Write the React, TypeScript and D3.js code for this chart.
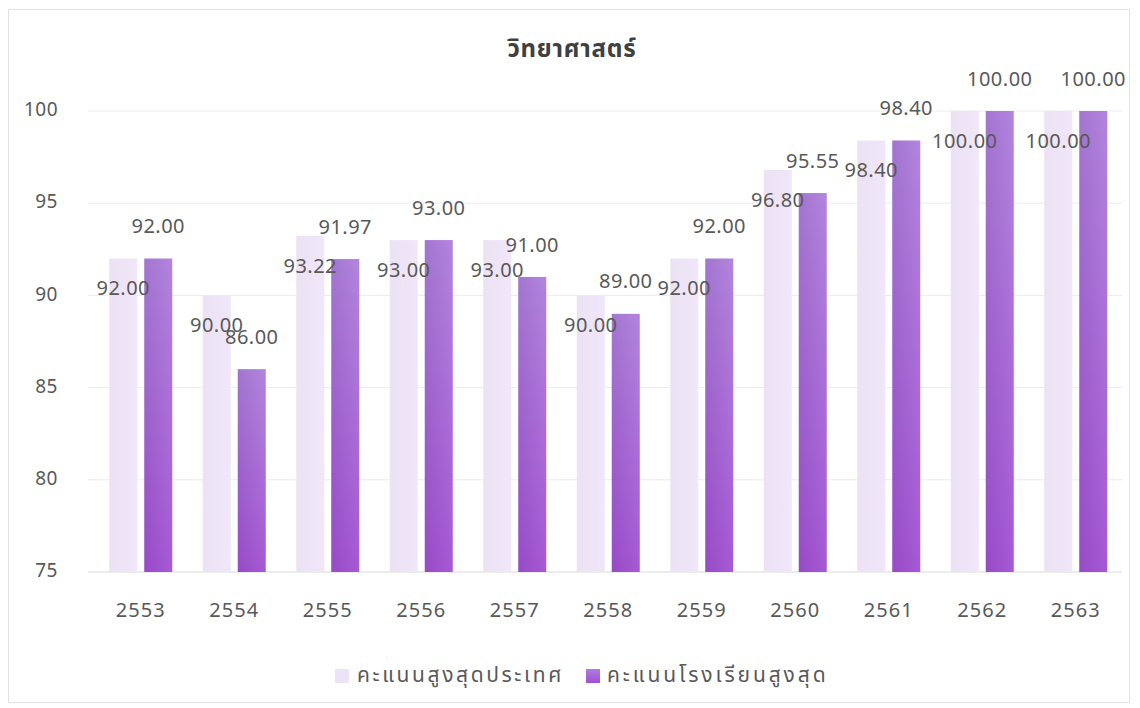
import React from "react";
import * as d3 from "d3";

const categories = ["2553", "2554", "2555", "2556", "2557", "2558", "2559", "2560", "2561", "2562", "2563"];
const nationalMax = [92, 90, 93.22, 93, 93, 90, 92, 96.8, 98.4, 100, 100];
const schoolMax = [92, 86, 91.97, 93, 91, 89, 92, 95.55, 98.4, 100, 100];
const seriesNames = ["คะแนนสูงสุดประเทศ", "คะแนนโรงเรียนสูงสุด"];
const yTicks = [75, 80, 85, 90, 95, 100];
const title = "วิทยาศาสตร์";

const FONT = "'Noto Sans Thai', 'Noto Sans', 'DejaVu Sans', sans-serif";

export default function App() {
  const W = 1140;
  const H = 708;
  const x = d3.scaleBand<string>().domain(categories).range([94, 1122.5]).paddingInner(0).paddingOuter(0);
  const inner = d3.scaleBand<string>().domain(["light", "dark"]).range([-31.5, 31.5]).paddingInner(0.2).paddingOuter(0);
  const y = d3.scaleLinear().domain([75, 100]).range([572, 111]);
  const bw = inner.bandwidth();
  const cx = (c: string) => (x(c) as number) + x.bandwidth() / 2;

  return (
    <svg width={W} height={H} style={{ position: "absolute", left: 0, top: 0 }} fontFamily={FONT}>
      <defs>
        <linearGradient id="darkGrad" x1="0" y1="0" x2="0" y2="1">
          <stop offset="0%" stopColor="#ad7ddc" />
          <stop offset="100%" stopColor="#a04fd2" />
        </linearGradient>
        <linearGradient id="darkGradH" x1="0" y1="0" x2="1" y2="0">
          <stop offset="0%" stopColor="#000" stopOpacity={0.06} />
          <stop offset="100%" stopColor="#fff" stopOpacity={0.06} />
        </linearGradient>
        <linearGradient id="lightGrad" x1="0" y1="0" x2="1" y2="0">
          <stop offset="0%" stopColor="#ebe2f3" />
          <stop offset="100%" stopColor="#f1e6fa" />
        </linearGradient>
      </defs>
      <rect x={0} y={0} width={W} height={H} fill="#ffffff" />
      <rect x={8.5} y={9.5} width={1121} height={693} fill="#ffffff" stroke="#e3e3e3" strokeWidth={1} />

      <text x={572} y={50} textAnchor="middle" dominantBaseline="middle" fontSize={24} letterSpacing={0.8} fontWeight="bold" fill="#404040">
        {title}
      </text>

      {yTicks.map((t) => (
        <g key={t}>
          <line x1={88} x2={1122} y1={y(t)} y2={y(t)} stroke={t === 75 ? "#d9d9d9" : "#ececec"} strokeWidth={1} />
          <text x={58} y={y(t)} textAnchor="end" dominantBaseline="middle" fontSize={19} letterSpacing={0.5} fill="#595959">
            {t}
          </text>
        </g>
      ))}

      {categories.map((c, i) => {
        const c0 = cx(c);
        const lx = c0 + (inner("light") as number);
        const dx = c0 + (inner("dark") as number);
        const lv = nationalMax[i];
        const dv = schoolMax[i];
        return (
          <g key={c}>
            <rect x={lx} y={y(lv)} width={bw} height={y(75) - y(lv)} fill="url(#lightGrad)" />
            <rect x={dx} y={y(dv)} width={bw} height={y(75) - y(dv)} fill="url(#darkGrad)" />
            <rect x={dx} y={y(dv)} width={bw} height={y(75) - y(dv)} fill="url(#darkGradH)" />
            <text x={c0} y={611} textAnchor="middle" dominantBaseline="middle" fontSize={20} letterSpacing={1} fill="#595959">
              {c}
            </text>
          </g>
        );
      })}

      {categories.map((c, i) => {
        const c0 = cx(c);
        const lx = c0 + (inner("light") as number) + bw / 2;
        const dx = c0 + (inner("dark") as number) + bw / 2;
        return (
          <g key={"lab" + c}>
            <text x={lx} y={y(nationalMax[i]) + 31} textAnchor="middle" dominantBaseline="middle" fontSize={20} letterSpacing={0.5} fill="#595959">
              {nationalMax[i].toFixed(2)}
            </text>
            <text x={dx} y={y(schoolMax[i]) - 31} textAnchor="middle" dominantBaseline="middle" fontSize={20} letterSpacing={0.5} fill="#595959">
              {schoolMax[i].toFixed(2)}
            </text>
          </g>
        );
      })}

      <g>
        <rect x={335} y={669} width={14} height={14} fill="#ede3f7" />
        <text x={357} y={676} dominantBaseline="middle" fontSize={21} letterSpacing={2.6} fill="#595959">
          {seriesNames[0]}
        </text>
        <rect x={586} y={669} width={14} height={14} fill="url(#darkGrad)" />
        <text x={607} y={676} dominantBaseline="middle" fontSize={21} letterSpacing={2.9} fill="#595959">
          {seriesNames[1]}
        </text>
      </g>
    </svg>
  );
}
